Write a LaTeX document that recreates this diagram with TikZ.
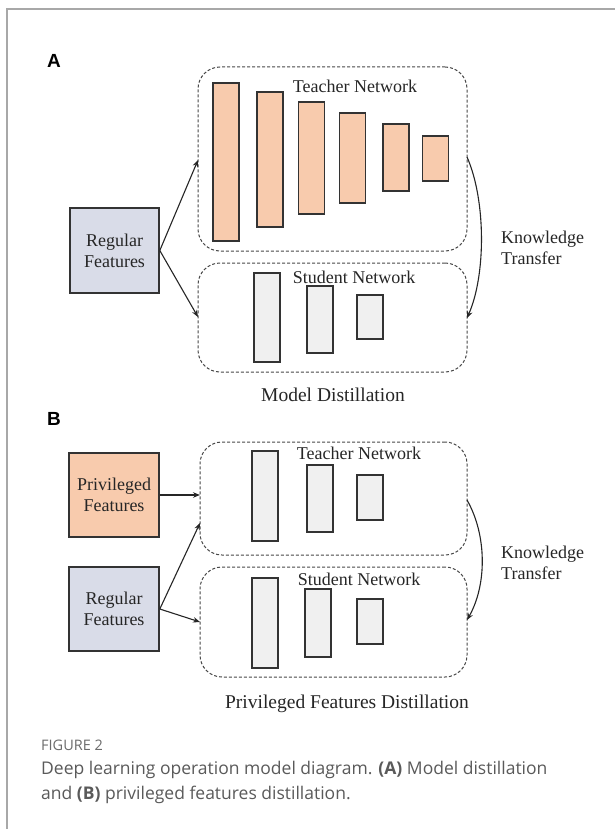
\documentclass[tikz,border=0pt]{standalone}
\usepackage{fontspec}
\setmainfont{Liberation Serif}
\newfontfamily\lblfont{Liberation Sans}
\newfontfamily\capfont{Open Sans}
\usetikzlibrary{arrows.meta}
\definecolor{peach}{HTML}{F8CBAD}
\definecolor{bluegray}{HTML}{D9DCE8}
\definecolor{barbg}{HTML}{F0F0F0}
\definecolor{edge}{HTML}{333333}
\definecolor{txt}{HTML}{262626}
\definecolor{frame}{HTML}{A8A8A8}
\definecolor{capgray}{HTML}{5A5A5A}
\tikzset{
  tbar/.style={draw=edge, line width=1.6pt, fill=peach, minimum width=26pt, inner sep=0pt},
  sbar/.style={draw=edge, line width=1.6pt, fill=barbg, minimum width=26pt, inner sep=0pt},
  dbox/.style={draw=black!72, line width=1pt, dash pattern=on 3pt off 2pt, rounded corners=22pt, inner sep=0pt},
  featbox/.style={draw=edge, line width=1.6pt, minimum width=90pt, minimum height=85pt, inner sep=0pt, align=center, text=txt, font=\fontsize{18}{21}\selectfont},
  netlbl/.style={text=txt, font=\fontsize{18}{21}\selectfont, inner sep=0pt},
  ttl/.style={text=txt, font=\fontsize{19.5}{22}\selectfont, inner sep=0pt},
  ktlbl/.style={text=txt, font=\fontsize{18}{21}\selectfont, align=left, inner sep=0pt, anchor=west},
  panel/.style={font=\lblfont\bfseries\fontsize{19}{22}\selectfont, inner sep=0pt},
  conn/.style={-{Stealth[length=7pt,width=5.5pt]}, line width=1.1pt, draw=black!85},
  capline/.style={anchor=base west, inner sep=0pt, text=capgray, font=\capfont\fontsize{17.5}{21}\selectfont},
}
\begin{document}
\begin{tikzpicture}[x=1pt,y=-1pt]
\useasboundingbox (0,0) rectangle (615,829);
\fill[white] (0,0) rectangle (615,829);
\draw[frame, line width=1.5pt] (7,829) -- (7,9) -- (615,9);

% ---------- Panel A ----------
\node[panel] (la) at (54,61) {A};
\node[dbox, minimum width=269pt, minimum height=184pt] (ta) at (332.5,159) {};
\node[dbox, minimum width=269pt, minimum height=109pt] (sa) at (332.5,317.5) {};
\node[netlbl] (tna) at (355,86) {Teacher Network};
\node[netlbl] (sna) at (354,277) {Student Network};
\node[tbar, minimum height=158pt] (t1) at (226,162) {};
\node[tbar, minimum height=135pt] (t2) at (270,159.5) {};
\node[tbar, minimum height=112pt] (t3) at (311.5,158) {};
\node[tbar, minimum height=90pt] (t4) at (352.5,158) {};
\node[tbar, minimum height=67pt] (t5) at (396,157.5) {};
\node[tbar, minimum height=45pt] (t6) at (435.5,158.5) {};
\node[sbar, minimum height=89pt] (s1) at (267,317.5) {};
\node[sbar, minimum height=67pt] (s2) at (320,319.5) {};
\node[sbar, minimum height=44pt] (s3) at (370,317) {};
\node[featbox, fill=bluegray, minimum width=89pt] (ra) at (114.5,250.5) {Regular\\Features};
\coordinate (tain) at (198,160);
\coordinate (sain) at (198,317);
\draw[conn] (ra.east) -- (tain);
\draw[conn] (ra.east) -- (sain);
\coordinate (kaa) at (467,157);
\coordinate (kab) at (467,318);
\draw[conn] (kaa) .. controls (486,200) and (486,275) .. (kab);
\node[ktlbl] (kta) at (501,247.5) {Knowledge\\Transfer};
\node[ttl] (mda) at (333,395) {Model Distillation};

% ---------- Panel B ----------
\node[panel] (lb) at (54,419) {B};
\node[dbox, minimum width=267pt, minimum height=113pt] (tb) at (333.5,498.5) {};
\node[dbox, minimum width=267pt, minimum height=110pt] (sb) at (333.5,622) {};
\node[netlbl] (tnb) at (359,453) {Teacher Network};
\node[netlbl] (snb) at (359,579) {Student Network};
\node[sbar, minimum height=90pt] (bt1) at (265,496) {};
\node[sbar, minimum height=67pt] (bt2) at (320,498.5) {};
\node[sbar, minimum height=45pt] (bt3) at (370,497.5) {};
\node[sbar, minimum height=90pt] (bs1) at (265,623) {};
\node[sbar, minimum height=68pt] (bs2) at (318,623) {};
\node[sbar, minimum height=45pt] (bs3) at (370,621.5) {};
\node[featbox, fill=peach, minimum height=84pt] (pb) at (114,495) {Privileged\\Features};
\node[featbox, fill=bluegray, minimum height=84pt] (rb) at (114,609) {Regular\\Features};
\coordinate (tbin1) at (200,495);
\coordinate (tbin2) at (200,523);
\coordinate (sbin) at (200,622);
\draw[conn] (pb.east) -- (tbin1);
\draw[conn] (rb.east) -- (tbin2);
\draw[conn] (rb.east) -- (sbin);
\coordinate (kba) at (467,500);
\coordinate (kbb) at (467,620);
\draw[conn] (kba) .. controls (487,535) and (487,585) .. (kbb);
\node[ktlbl] (ktb) at (501,562.5) {Knowledge\\Transfer};
\node[ttl] (pfd) at (347,704) {Privileged Features Distillation};

% ---------- Caption ----------
\node[anchor=base west, inner sep=0pt, text=capgray!90, font=\capfont\fontsize{14.5}{17}\selectfont] (fig) at (41,750) {FIGURE 2};
\node[capline] (cap1) at (41,774) {Deep learning operation model diagram. \textbf{(A)} Model distillation};
\node[capline] (cap2) at (41,799) {and \textbf{(B)} privileged features distillation.};
\end{tikzpicture}
\end{document}
